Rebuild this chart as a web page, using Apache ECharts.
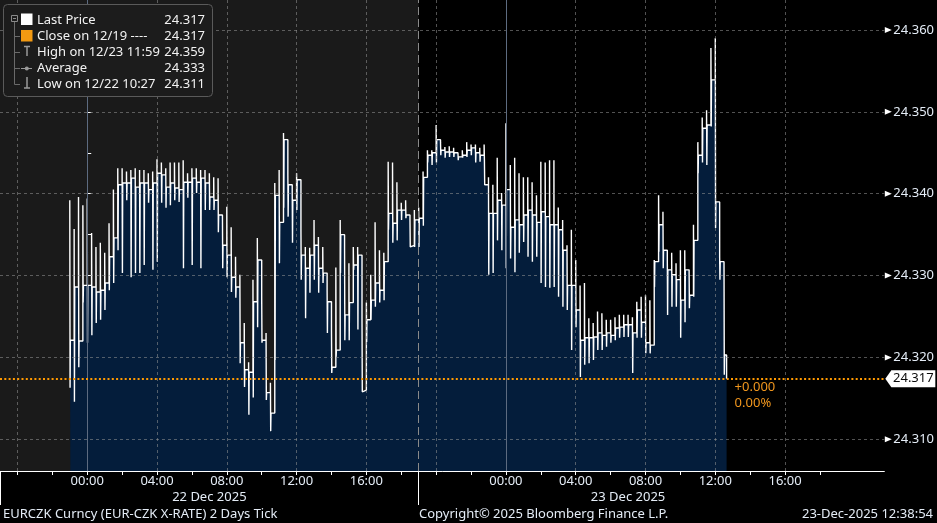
<!DOCTYPE html>
<html><head><meta charset="utf-8">
<script src="https://cdn.jsdelivr.net/npm/echarts@6/dist/echarts.min.js"></script>
<style>html,body{margin:0;padding:0;background:#000;}#c{width:937px;height:523px;}</style>
</head><body><div id="c"></div>
<script>
// ---- time grid: hours relative to 22 Dec 2025 00:00 ----
const startHour = -1;        // 21 Dec 23:00
const stepHours = 0.25;      // 15-minute buckets
const hiVals = [24.3392,24.3357,24.3396,24.3386,24.3394,24.3352,24.3335,24.3340,24.3328,24.3364,
24.3405,24.3431,24.3431,24.3427,24.3429,24.3431,24.3429,24.3429,24.3425,24.3427,
24.3442,24.3438,24.3431,24.3438,24.3438,24.3438,24.3441,24.3425,24.3431,24.3431,
24.3429,24.3429,24.3425,24.3420,24.3419,24.3376,24.3384,24.3359,24.3323,24.3301,
24.3242,24.3194,24.3295,24.3346,24.3274,24.3230,24.3169,24.3413,24.3429,24.3474,
24.3423,24.3401,24.3425,24.3356,24.3335,24.3334,24.3368,24.3347,24.3335,24.3282,
24.3234,24.3310,24.3368,24.3335,24.3315,24.3335,24.3335,24.3246,24.3267,24.3301,
24.3365,24.3331,24.3328,24.3439,24.3438,24.3414,24.3389,24.3392,24.3368,24.3380,
24.3383,24.3427,24.3453,24.3453,24.3484,24.3463,24.3457,24.3458,24.3456,24.3451,
24.3453,24.3463,24.3460,24.3460,24.3456,24.3460,24.3420,24.3411,24.3444,24.3401,
24.3486,24.3435,24.3444,24.3425,24.3420,24.3420,24.3414,24.3398,24.3439,24.3438,
24.3441,24.3441,24.3383,24.3368,24.3337,24.3356,24.3319,24.3288,24.3291,24.3248,
24.3242,24.3256,24.3254,24.3246,24.3246,24.3249,24.3252,24.3252,24.3252,24.3249,
24.3268,24.3274,24.3276,24.3270,24.3319,24.3398,24.3378,24.3321,24.3328,24.3315,
24.3331,24.3331,24.3303,24.3362,24.3463,24.3493,24.3502,24.3578,24.3590,24.3323,
24.3315];
const loVals = [24.3163,24.3146,24.3188,24.3267,24.3218,24.3227,24.3242,24.3246,24.3258,24.3282,
24.3291,24.3331,24.3303,24.3392,24.3298,24.3303,24.3303,24.3313,24.3389,24.3307,
24.3317,24.3389,24.3383,24.3386,24.3392,24.3390,24.3309,24.3395,24.3313,24.3401,
24.3309,24.3380,24.3380,24.3380,24.3353,24.3309,24.3298,24.3280,24.3273,24.3193,
24.3164,24.3130,24.3151,24.3237,24.3218,24.3148,24.3110,24.3197,24.3315,24.3383,
24.3372,24.3340,24.3380,24.3295,24.3248,24.3279,24.3295,24.3279,24.3291,24.3230,
24.3181,24.3201,24.3303,24.3221,24.3221,24.3307,24.3234,24.3158,24.3219,24.3246,
24.3262,24.3267,24.3270,24.3356,24.3340,24.3343,24.3368,24.3370,24.3335,24.3335,
24.3335,24.3361,24.3438,24.3435,24.3438,24.3447,24.3444,24.3445,24.3445,24.3441,
24.3444,24.3445,24.3447,24.3438,24.3439,24.3441,24.3301,24.3303,24.3343,24.3331,
24.3309,24.3321,24.3304,24.3328,24.3341,24.3323,24.3317,24.3323,24.3291,24.3286,
24.3285,24.3286,24.3274,24.3262,24.3258,24.3209,24.3237,24.3176,24.3191,24.3193,
24.3197,24.3209,24.3209,24.3213,24.3218,24.3221,24.3224,24.3225,24.3225,24.3181,
24.3224,24.3224,24.3205,24.3205,24.3286,24.3329,24.3309,24.3252,24.3262,24.3262,
24.3224,24.3243,24.3260,24.3274,24.3425,24.3438,24.3435,24.3482,24.3358,24.3295,
24.3179];
const lvlVals = [24.3221,24.3286,24.3220,24.3288,24.3288,24.3286,24.3280,24.3282,24.3291,24.3323,
24.3346,24.3411,24.3413,24.3413,24.3419,24.3408,24.3413,24.3413,24.3405,24.3413,
24.3425,24.3423,24.3408,24.3413,24.3407,24.3405,24.3414,24.3414,24.3419,24.3414,
24.3419,24.3413,24.3396,24.3392,24.3374,24.3337,24.3325,24.3298,24.3286,24.3218,
24.3185,24.3182,24.3268,24.3319,24.3221,24.3157,24.3132,24.3398,24.3365,24.3466,
24.3411,24.3392,24.3417,24.3325,24.3309,24.3325,24.3337,24.3309,24.3303,24.3268,
24.3188,24.3209,24.3350,24.3252,24.3267,24.3313,24.3325,24.3160,24.3246,24.3270,
24.3291,24.3282,24.3317,24.3376,24.3364,24.3380,24.3380,24.3374,24.3337,24.3368,
24.3370,24.3420,24.3447,24.3450,24.3466,24.3453,24.3451,24.3451,24.3450,24.3445,
24.3447,24.3453,24.3456,24.3450,24.3447,24.3411,24.3376,24.3376,24.3392,24.3386,
24.3405,24.3359,24.3368,24.3362,24.3374,24.3380,24.3374,24.3365,24.3378,24.3372,
24.3362,24.3362,24.3356,24.3331,24.3288,24.3288,24.3258,24.3221,24.3224,24.3224,
24.3225,24.3230,24.3227,24.3230,24.3227,24.3236,24.3237,24.3240,24.3240,24.3230,
24.3258,24.3243,24.3218,24.3215,24.3317,24.3362,24.3331,24.3307,24.3301,24.3295,
24.3270,24.3307,24.3276,24.3343,24.3447,24.3480,24.3484,24.3539,24.3390,24.3317,
24.3203];
const lastHour = 36 + 38/60 + 54/3600;   // 23 Dec 12:38:54
const lastPrice = 24.3174;
const prevClose = 24.3174;               // close on 12/19
const dayBreakHour = 19;                 // session break 22 Dec 19:00
const xMinHour = -5, xMaxHour = 45.69;
const yMin = 24.30613, yMax = 24.36366;

const yLabelValues = [24.310,24.320,24.330,24.340,24.350,24.360];
const yTickValues = [24.310,24.315,24.320,24.325,24.330,24.335,24.340,24.345,24.350,24.355,24.360];
const xTickHours = [-4,-2,0,2,4,6,8,10,12,14,16,18,20,22,24,26,28,30,32,34,36,38,40,42];
const xLabelHours = [0,4,8,12,16,24,28,32,36,40];
const xGridHours = [-4,4,8,12,16,20,28,32,36,40];
const midnightHours = [0,24];
const dateLabelHours = [7,31];
const dateLabelTexts = ['22 Dec 2025','23 Dec 2025'];
const dateSepHours = [-5,19];

const legendLabels = ['Last Price','Close on 12/19 ----','High on 12/23 11:59','Average','Low on 12/22 10:27'];
const legendValues = ['24.317','24.317','24.359','24.333','24.311'];
const footerLeft = 'EURCZK Curncy (EUR-CZK X-RATE) 2 Days Tick';
const footerMid = 'Copyright\u00a9 2025 Bloomberg Finance L.P.';
const footerRight = '23-Dec-2025 12:38:54';

// ---- build tick path ----
const pts = [];
for (let i = 0; i < lvlVals.length; i++) {
  const t = startHour + i * stepHours;
  pts.push([t, hiVals[i]]);
  pts.push([t + 1/60, loVals[i]]);
  pts.push([t + 2/60, lvlVals[i]]);
}
pts.push([lastHour, lastPrice]);

const FONT = '"Noto Sans", "DejaVu Sans", sans-serif';
const TXT = '#e4ecf6';
const pad2 = n => (n < 10 ? '0' : '') + n;

const gridDash = {color: 'rgba(150,150,150,0.55)', type: [3,3], width: 1};
const gridLines = [];
yLabelValues.forEach(v => gridLines.push({yAxis: v, lineStyle: gridDash}));
xGridHours.forEach(h => gridLines.push({xAxis: h, lineStyle: gridDash}));
midnightHours.forEach(h => gridLines.push({xAxis: h, lineStyle: {color: '#5d6b80', type: 'solid', width: 1}}));
gridLines.push({xAxis: dayBreakHour, lineStyle: {color: '#8a8a8a', type: [8,4], width: 1}});

// legend graphic
const G = [];
G.push({type:'rect', shape:{x:3.5,y:4.5,width:209,height:92,r:4}, style:{fill:'#1c1c1c', stroke:'#5a5a5a', lineWidth:1}, z:100});
G.push({type:'rect', shape:{x:11.5,y:15.5,width:6,height:6}, style:{fill:'none', stroke:'#8a8a8a', lineWidth:1}, z:101});
G.push({type:'line', shape:{x1:13,y1:18.5,x2:16,y2:18.5}, style:{stroke:'#8a8a8a', lineWidth:1}, z:101});
G.push({type:'line', shape:{x1:14.5,y1:22,x2:14.5,y2:84.5}, style:{stroke:'#6a6a6a', lineWidth:1}, z:101});
const rowY = [20, 36, 52, 68, 84];
rowY.forEach((y, i) => {
  if (i > 0) G.push({type:'line', shape:{x1:14.5,y1:y+0.5,x2:20,y2:y+0.5}, style:{stroke:'#6a6a6a', lineWidth:1}, z:101});
  G.push({type:'text', x:37, y:y, style:{text:legendLabels[i], fill:'#f2f2f2', fontSize:13, fontFamily:FONT, verticalAlign:'middle', align:'left'}, z:102});
  G.push({type:'text', x:205, y:y, style:{text:legendValues[i], fill:'#f2f2f2', fontSize:13, fontFamily:FONT, verticalAlign:'middle', align:'right'}, z:102});
});
G.push({type:'rect', shape:{x:21,y:13.5,width:11.5,height:11.5}, style:{fill:'#ffffff'}, z:101});
G.push({type:'rect', shape:{x:21,y:30,width:11.5,height:11.5}, style:{fill:'#f39a12'}, z:101});
G.push({type:'line', shape:{x1:24,y1:46.5,x2:30,y2:46.5}, style:{stroke:'#9a9a9a', lineWidth:1.5}, z:101});
G.push({type:'line', shape:{x1:27,y1:46.5,x2:27,y2:56}, style:{stroke:'#9a9a9a', lineWidth:1.5}, z:101});
G.push({type:'line', shape:{x1:21,y1:68.5,x2:32,y2:68.5}, style:{stroke:'#9a9a9a', lineWidth:1}, z:101});
G.push({type:'circle', shape:{cx:26.8,cy:68.5,r:2}, style:{fill:'#9a9a9a'}, z:101});
G.push({type:'line', shape:{x1:27,y1:77,x2:27,y2:88}, style:{stroke:'#9a9a9a', lineWidth:1.5}, z:101});
G.push({type:'line', shape:{x1:24,y1:88,x2:30,y2:88}, style:{stroke:'#9a9a9a', lineWidth:1.5}, z:101});
// footer
G.push({type:'text', x:3, y:514, style:{text:footerLeft, fill:TXT, fontSize:13, fontFamily:FONT, verticalAlign:'middle', align:'left'}});
G.push({type:'text', x:419, y:514, style:{text:footerMid, fill:TXT, fontSize:13, fontFamily:FONT, verticalAlign:'middle', align:'left'}});
G.push({type:'text', x:933, y:514, style:{text:footerRight, fill:TXT, fontSize:13, fontFamily:FONT, verticalAlign:'middle', align:'right'}});

const chg = lastPrice - prevClose;
const chgPct = chg / prevClose * 100;
const chgText = (chg >= 0 ? '+' : '') + chg.toFixed(3) + '\n' + chgPct.toFixed(2) + '%';

// y-axis arrow markers at labelled values
const arrowPoints = yLabelValues.map(v => ({
  coord: [xMaxHour, v], symbol: 'path://M0 0 L7 3 L0 6 Z', symbolKeepAspect: false,
  symbolSize: [7, 6], symbolOffset: [4, 0], itemStyle: {color: '#ffffff'}, label: {show: false}
}));

const chart = echarts.init(document.getElementById('c'));
chart.setOption({
  backgroundColor: '#000',
  animation: false,
  grid: {left: 0, right: 51, top: 0, bottom: 52, containLabel: false},
  xAxis: [{
    type: 'value', min: xMinHour, max: xMaxHour,
    axisLine: {show: true, lineStyle: {color: '#ffffff', width: 1}},
    axisTick: {show: true, customValues: xTickHours, length: 4, lineStyle: {color: '#ffffff'}},
    axisLabel: {show: true, customValues: xLabelHours, margin: 4, color: TXT, fontSize: 13, fontFamily: FONT,
      formatter: v => pad2(((Math.round(v) % 24) + 24) % 24) + ':00'},
    splitLine: {show: false}
  }, {
    type: 'value', min: xMinHour, max: xMaxHour, position: 'bottom', offset: 0,
    axisLine: {show: false},
    axisTick: {show: true, customValues: dateSepHours, length: 34, lineStyle: {color: '#ffffff', width: 1}},
    axisLabel: {show: true, customValues: dateLabelHours, margin: 20, color: TXT, fontSize: 13, fontFamily: FONT,
      formatter: v => dateLabelTexts[dateLabelHours.indexOf(Math.round(v))] || ''},
    splitLine: {show: false}
  }],
  yAxis: {
    type: 'value', position: 'right', min: yMin, max: yMax, scale: true,
    axisLine: {show: true, lineStyle: {color: '#ffffff', width: 1}},
    axisTick: {show: true, customValues: yTickValues, length: 4, lineStyle: {color: '#ffffff'}},
    axisLabel: {show: true, customValues: yLabelValues, margin: 9, color: TXT, fontSize: 13, fontFamily: FONT,
      formatter: v => v.toFixed(3)},
    splitLine: {show: false}
  },
  graphic: G,
  series: [
    {
      name: 'Last Price', type: 'line', data: pts, step: 'end', showSymbol: false, symbol: 'none', z: 2,
      lineStyle: {color: '#ffffff', width: 1.4},
      areaStyle: {color: '#041d3b', origin: 'start', opacity: 1},
      clip: true, silent: true
    },
    {
      name: 'grid', type: 'line', data: [], z: 3, silent: true,
      markLine: {silent: true, precision: 4, symbol: ['none','none'], label: {show: false}, animation: false, data: gridLines}
    },
    {
      name: 'prev', type: 'line', data: [], z: 4, silent: true,
      markArea: {silent: true, itemStyle: {color: 'rgba(255,255,255,0.1)'},
        data: [[{xAxis: xMinHour}, {xAxis: dayBreakHour}]]}
    },
    {
      name: 'close', type: 'line', data: [], z: 5, silent: true,
      markLine: {silent: true, precision: 4, symbol: ['none','none'], label: {show: false}, animation: false,
        data: [{yAxis: prevClose, lineStyle: {color: '#ff9900', type: [2,2.3], width: 2}}]},
      markPoint: {silent: true, animation: false, data: arrowPoints.concat([
        {coord: [xMaxHour, lastPrice], symbol: 'path://M0 8 L6 0 L50 0 L50 16 L6 16 Z', symbolKeepAspect: false,
          symbolSize: [50, 17], symbolOffset: [26, 0], itemStyle: {color: '#ffffff'},
          label: {show: true, position: 'inside', offset: [3, 0], formatter: lastPrice.toFixed(3), color: '#0a0a0a', fontSize: 13, fontFamily: FONT}},
        {coord: [lastHour, lastPrice], symbol: 'circle', symbolSize: 0, itemStyle: {color: 'transparent'},
          label: {show: true, position: [8, 1], formatter: chgText, color: '#f0961e', fontSize: 13, lineHeight: 16, fontFamily: FONT, align: 'left', verticalAlign: 'top'}}
      ])}
    }
  ]
});
</script>
</body></html>
